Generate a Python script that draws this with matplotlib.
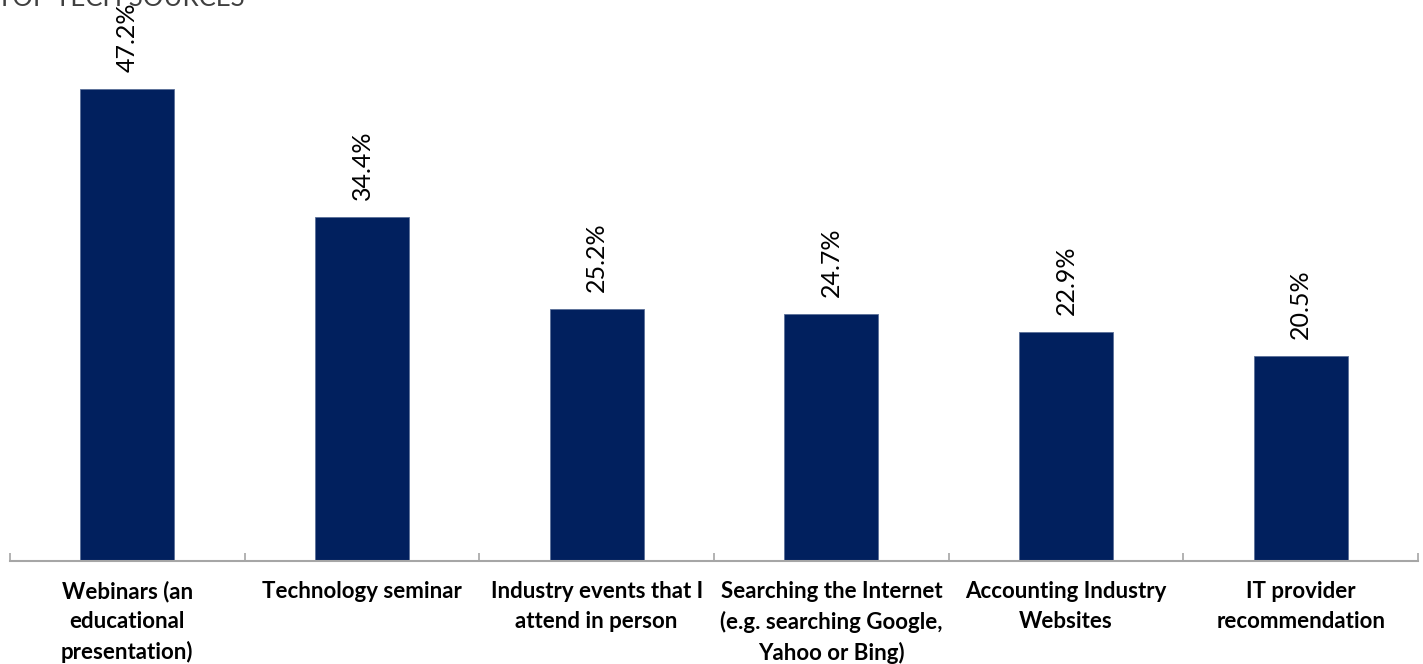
import matplotlib
matplotlib.use("Agg")
import matplotlib.pyplot as plt
import numpy as np

# survey results: where respondents learn about new technology
categories = [
    "Webinars (an\neducational\npresentation)",
    "Technology seminar",
    "Industry events that I\nattend in person",
    "Searching the Internet\n(e.g. searching Google,\nYahoo or Bing)",
    "Accounting Industry\nWebsites",
    "IT provider\nrecommendation",
]
shares = [47.2, 34.4, 25.2, 24.7, 22.9, 20.5]
title = "TOP TECH SOURCES"

NAVY = "#01205e"
EDGE = "#5b6f98"
AXIS = "#a6a6a6"
FONT = "Lato"

W, H, DPI = 1423, 664, 100
fig = plt.figure(figsize=(W / DPI, H / DPI), dpi=DPI)
ax = fig.add_axes([10 / W, 103 / H, 1408 / W, 561 / H])

x = np.arange(len(categories))
ax.bar(x, shares, width=0.4, color=NAVY, edgecolor=EDGE, linewidth=0.6, zorder=2)
for xi, v in zip(x, shares):
    ax.text(xi, v + 1.7, "{:.1f}%".format(v), rotation=90, ha="center", va="bottom",
            fontsize=18, fontfamily=FONT, color="#000000")

ax.set_xlim(-0.5, len(categories) - 0.5)
ax.set_ylim(0, 56.1)
ax.set_yticks([])
for side in ("left", "right", "top"):
    ax.spines[side].set_visible(False)
ax.spines["bottom"].set_color(AXIS)
ax.spines["bottom"].set_linewidth(1.5)
ax.spines["bottom"].set_zorder(3)

# category ticks at the boundaries and the bar centres
ax.set_xticks(np.arange(-0.5, len(categories), 0.5))
ax.set_xticklabels([])
ax.tick_params(axis="x", direction="in", length=6, width=1.2, color=AXIS)
for xi, lab in zip(x, categories):
    ax.text(xi, -2.0, lab, ha="center", va="top", fontsize=16, fontweight="bold",
            fontfamily=FONT, linespacing=1.5, color="#000000")

# heading sits mostly above the top edge of the canvas
fig.text(-0.002, 1 - 6 / H, title, ha="left", va="baseline", fontsize=18.5,
         fontfamily=FONT, color="#404040")

fig.savefig("out.png", dpi=DPI, facecolor="white")
